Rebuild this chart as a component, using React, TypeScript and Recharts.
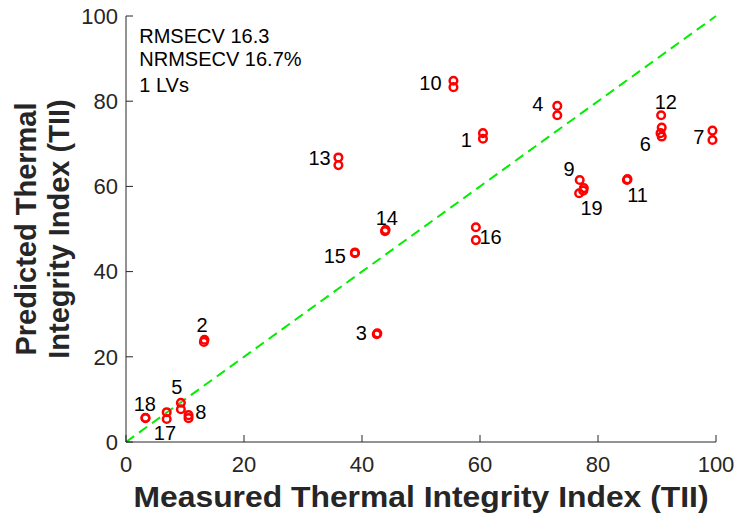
import React from 'react';
import { ScatterChart, Scatter, XAxis, YAxis, ReferenceLine, Label } from 'recharts';

const sampleIds = ['1', '2', '3', '4', '5', '6', '7', '8', '9', '10', '11', '12', '13', '14', '15', '16', '17', '18', '19'];
const measuredRep1 = [60.5, 13.2, 42.5, 73.1, 9.3, 90.6, 99.4, 10.6, 76.9, 55.5, 84.9, 90.7, 36.0, 43.9, 38.8, 59.3, 6.9, 3.3, 77.6];
const predictedRep1 = [72.5, 23.5, 25.3, 78.9, 9.2, 72.5, 73.1, 6.3, 61.5, 84.8, 61.5, 76.7, 66.8, 49.5, 44.3, 50.4, 7.0, 5.6, 59.6];
const measuredRep2 = [60.5, 13.3, 42.6, 73.1, 9.3, 90.8, 99.4, 10.6, 77.5, 55.5, 85.0, 90.8, 36.0, 44.0, 38.8, 59.3, 6.9, 3.3, 76.8];
const predictedRep2 = [71.2, 24.0, 25.5, 76.7, 7.7, 71.7, 70.9, 5.6, 59.0, 83.3, 61.7, 73.8, 65.0, 49.8, 44.5, 47.4, 5.4, 5.7, 58.4];
const labelX = [57.7, 12.9, 39.9, 69.8, 8.6, 88.0, 97.1, 12.7, 75.1, 51.6, 86.7, 91.5, 32.8, 44.2, 35.4, 61.8, 6.6, 3.2, 78.9];
const labelY = [70.9, 27.5, 25.5, 79.3, 12.8, 69.9, 71.5, 7.0, 64.0, 84.2, 58.0, 79.7, 66.6, 52.5, 43.7, 48.2, 2.2, 8.9, 54.9];
const axisTicks = [0, 20, 40, 60, 80, 100];
const statsLines = ['RMSECV 16.3', 'NRMSECV 16.7%', '1 LVs'];
const statsX = [2.25, 2.25, 2.25];
const statsY = [95.4, 89.8, 83.9];
const xTitle = 'Measured Thermal Integrity Index (TII)';
const yTitleLines = ['Predicted Thermal', 'Integrity Index (TII)'];

const FONT = '"Liberation Sans", Arial, Helvetica, sans-serif';
const AXIS_COLOR = '#262626';

const points = [
  ...sampleIds.map((id, i) => ({ x: measuredRep1[i], y: predictedRep1[i], id })),
  ...sampleIds.map((id, i) => ({ x: measuredRep2[i], y: predictedRep2[i], id })),
];
const labels = sampleIds.map((id, i) => ({ x: labelX[i], y: labelY[i], text: id }));
const stats = statsLines.map((t, i) => ({ x: statsX[i], y: statsY[i], text: t }));

const CircleShape = (props: any) => (
  <circle cx={props.cx} cy={props.cy} r={3.8} fill="none" stroke="#ff0000" strokeWidth={2.5} />
);

const LabelShape = (props: any) => (
  <text
    x={props.cx}
    y={props.cy}
    textAnchor="middle"
    dominantBaseline="central"
    fontFamily={FONT}
    fontSize={20}
    fill="#000"
  >
    {props.payload.text}
  </text>
);

const StatShape = (props: any) => (
  <text
    x={props.cx}
    y={props.cy}
    textAnchor="start"
    dominantBaseline="central"
    fontFamily={FONT}
    fontSize={20}
    fill="#000"
  >
    {props.payload.text}
  </text>
);

const XTitle = (props: any) => {
  const vb = props.viewBox || {};
  return (
    <text
      x={vb.x + vb.width / 2}
      y={vb.y + 65}
      textAnchor="middle"
      fontFamily={FONT}
      fontWeight="bold"
      fontSize={29}
      fill={AXIS_COLOR}
      textLength={575}
      lengthAdjust="spacingAndGlyphs"
    >
      {xTitle}
    </text>
  );
};

const YTitle = (props: any) => {
  const vb = props.viewBox || {};
  const cy = vb.y + vb.height / 2;
  return (
    <g>
      {yTitleLines.map((line, i) => {
        const bx = 36 + i * 33;
        return (
          <text
            key={line}
            x={bx}
            y={cy}
            transform={`rotate(-90, ${bx}, ${cy})`}
            textAnchor="middle"
            fontFamily={FONT}
            fontWeight="bold"
            fontSize={29}
            fill={AXIS_COLOR}
          >
            {line}
          </text>
        );
      })}
    </g>
  );
};

export default function App() {
  return (
    <div style={{ position: 'absolute', left: 0, top: 0, width: 735, height: 515, background: '#fff' }}>
      <ScatterChart width={735} height={515} margin={{ top: 16, right: 19, bottom: 0, left: 0 }}>
        <XAxis
          type="number"
          dataKey="x"
          domain={[0, 100]}
          ticks={axisTicks}
          height={73}
          axisLine={{ stroke: AXIS_COLOR }}
          tickLine={{ stroke: AXIS_COLOR }}
          tickSize={-7}
          tickMargin={21}
          tick={{ fill: AXIS_COLOR, fontSize: 22, fontFamily: FONT }}
          interval={0}
        >
          <Label content={XTitle} />
        </XAxis>
        <YAxis
          type="number"
          dataKey="y"
          domain={[0, 100]}
          ticks={axisTicks}
          width={126}
          axisLine={{ stroke: AXIS_COLOR }}
          tickLine={{ stroke: AXIS_COLOR }}
          tickSize={-7}
          tickMargin={15}
          tick={{ fill: AXIS_COLOR, fontSize: 22, fontFamily: FONT }}
          interval={0}
        >
          <Label content={YTitle} />
        </YAxis>
        <XAxis
          xAxisId="top"
          orientation="top"
          type="number"
          dataKey="x"
          domain={[0, 100]}
          ticks={axisTicks}
          height={0}
          axisLine={{ stroke: AXIS_COLOR }}
          tickLine={{ stroke: AXIS_COLOR }}
          tickSize={-7}
          tick={false}
        />
        <YAxis
          yAxisId="right"
          orientation="right"
          type="number"
          dataKey="y"
          domain={[0, 100]}
          ticks={axisTicks}
          width={0}
          axisLine={{ stroke: AXIS_COLOR }}
          tickLine={{ stroke: AXIS_COLOR }}
          tickSize={-7}
          tick={false}
        />
        <ReferenceLine
          segment={[{ x: 0, y: 0 }, { x: 100, y: 100 }]}
          stroke="#00ee00"
          strokeWidth={2}
          strokeDasharray="10 6"
        />
        <Scatter data={points} shape={CircleShape} isAnimationActive={false} />
        <Scatter data={labels} shape={LabelShape} isAnimationActive={false} />
        <Scatter data={stats} shape={StatShape} isAnimationActive={false} />
      </ScatterChart>
    </div>
  );
}
